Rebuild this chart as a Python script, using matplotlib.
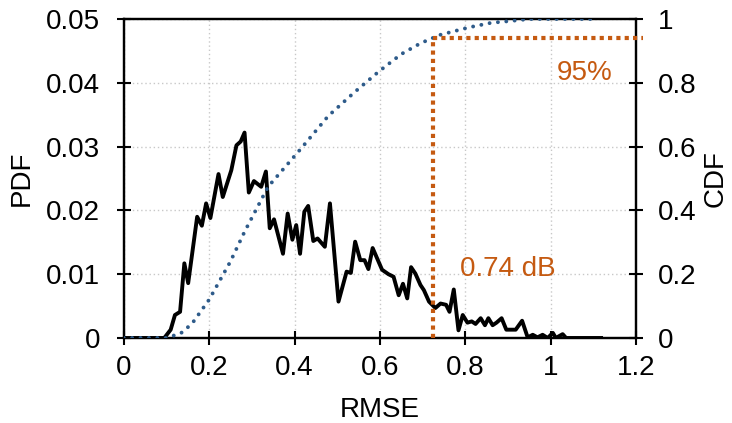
import matplotlib
matplotlib.use("Agg")
import matplotlib.pyplot as plt

plt.rcParams["font.family"] = ["Liberation Sans", "DejaVu Sans"]

# ── PDF (black line) ───────────────────────────────────────────────────────
pdf_x = [0, 0.095, 0.11, 0.12, 0.132, 0.142, 0.151, 0.172, 0.183, 0.193, 0.203,
         0.222, 0.232, 0.252, 0.264, 0.274, 0.283, 0.293, 0.305, 0.322, 0.333,
         0.342, 0.352, 0.373, 0.384, 0.395, 0.404, 0.413, 0.423, 0.432, 0.444,
         0.454, 0.471, 0.483, 0.503, 0.522, 0.532, 0.542, 0.554, 0.564, 0.573,
         0.583, 0.605, 0.620, 0.632, 0.644, 0.654, 0.664, 0.673, 0.683, 0.695,
         0.703, 0.715, 0.730, 0.742, 0.755, 0.763, 0.773, 0.784, 0.794, 0.805,
         0.815, 0.824, 0.836, 0.846, 0.854, 0.864, 0.873, 0.885, 0.896, 0.907,
         0.918, 0.933, 0.946, 0.958, 0.969, 0.981, 0.993, 1.005, 1.012, 1.028,
         1.036, 1.118]
pdf_y = [0, 0, 0.0013, 0.0036, 0.0041, 0.0117, 0.0086, 0.0190, 0.0176, 0.0211,
         0.0188, 0.0257, 0.0221, 0.0263, 0.0302, 0.0308, 0.0322, 0.0228, 0.0246,
         0.0237, 0.0261, 0.0172, 0.0186, 0.0132, 0.0195, 0.0154, 0.0177, 0.0132,
         0.0198, 0.0207, 0.0152, 0.0156, 0.0143, 0.0211, 0.0057, 0.0104, 0.0102,
         0.0151, 0.0122, 0.0122, 0.0108, 0.0141, 0.0107, 0.0100, 0.0096, 0.0067,
         0.0085, 0.0062, 0.0111, 0.0101, 0.0083, 0.0075, 0.0057, 0.0047, 0.0054,
         0.0052, 0.0041, 0.0076, 0.0012, 0.0036, 0.0024, 0.0026, 0.0022, 0.0031,
         0.0020, 0.0031, 0.0020, 0.0024, 0.0031, 0.0013, 0.0013, 0.0013, 0.0027,
         0.0001, 0.0005, 0.0001, 0.0005, 0, 0.0008, 0, 0.0006, 0, 0]

# ── CDF (blue dotted) ──────────────────────────────────────────────────────
cdf_x = [0, 0.1, 0.134, 0.16, 0.2, 0.25, 0.283, 0.338, 0.416, 0.479, 0.54,
         0.597, 0.65, 0.695, 0.74, 0.809, 0.86, 0.907, 0.95, 1.11]
cdf_y = [0, 0, 0.015, 0.045, 0.12, 0.24, 0.333, 0.474, 0.595, 0.696, 0.77,
         0.835, 0.89, 0.924, 0.95, 0.974, 0.988, 0.994, 1.0, 1.0]

# 95 % marker
mark_x = 0.725
mark_cdf = 0.94

x_ticks = [0, 0.2, 0.4, 0.6, 0.8, 1, 1.2]
x_labels = ["0", "0.2", "0.4", "0.6", "0.8", "1", "1.2"]
pdf_ticks = [0, 0.01, 0.02, 0.03, 0.04, 0.05]
pdf_labels = ["0", "0.01", "0.02", "0.03", "0.04", "0.05"]
cdf_ticks = [0, 0.2, 0.4, 0.6, 0.8, 1]
cdf_labels = ["0", "0.2", "0.4", "0.6", "0.8", "1"]

orange = "#C55A11"
blue = "#2E5B8A"
fs = 20

fig = plt.figure(figsize=(7.32, 4.23), dpi=100)
ax = fig.add_axes([0.169, 0.201, 0.700, 0.754])
ax2 = ax.twinx()

ax.plot(pdf_x, pdf_y, color="black", lw=2.8, zorder=3)
ax2.plot(cdf_x, cdf_y, color=blue, lw=2.8, dashes=(0.01, 2.15),
         dash_capstyle="round", zorder=3)

# orange 95% guides
ax2.plot([mark_x, mark_x], [0, mark_cdf], color=orange, lw=3.0,
         dashes=(1, 1.0), dash_capstyle="butt", zorder=4)
ax2.plot([mark_x, 1.215], [mark_cdf, mark_cdf], color=orange, lw=3.0,
         dashes=(1, 1.0), dash_capstyle="butt", zorder=4, clip_on=False)
ax2.text(1.08, 0.83, "95%", color=orange, fontsize=fs, ha="center", va="center")
ax.text(0.90, 0.0108, "0.74 dB", color=orange, fontsize=fs, ha="center", va="center")

ax.set_xlim(0, 1.2)
ax.set_ylim(0, 0.05)
ax2.set_ylim(0, 1)
ax.set_xticks(x_ticks)
ax.set_xticklabels(x_labels)
ax.set_yticks(pdf_ticks)
ax.set_yticklabels(pdf_labels)
ax2.set_yticks(cdf_ticks)
ax2.set_yticklabels(cdf_labels)

ax.grid(True, color="#C8C8C8", linestyle=(0, (1, 2)), lw=1.0)
ax.set_axisbelow(True)

for a in (ax, ax2):
    a.tick_params(direction="inout", length=10, width=1.5, labelsize=fs)
    for s in a.spines.values():
        s.set_linewidth(1.6)
ax.tick_params(axis="y", pad=12)
ax2.tick_params(axis="y", pad=11)
ax.tick_params(axis="x", pad=7)

ax.set_xlabel("RMSE", fontsize=fs, labelpad=12)
ax.set_ylabel("PDF", fontsize=fs, labelpad=8)
ax2.set_ylabel("CDF", fontsize=fs, labelpad=4)

fig.savefig("out.png", dpi=100)
